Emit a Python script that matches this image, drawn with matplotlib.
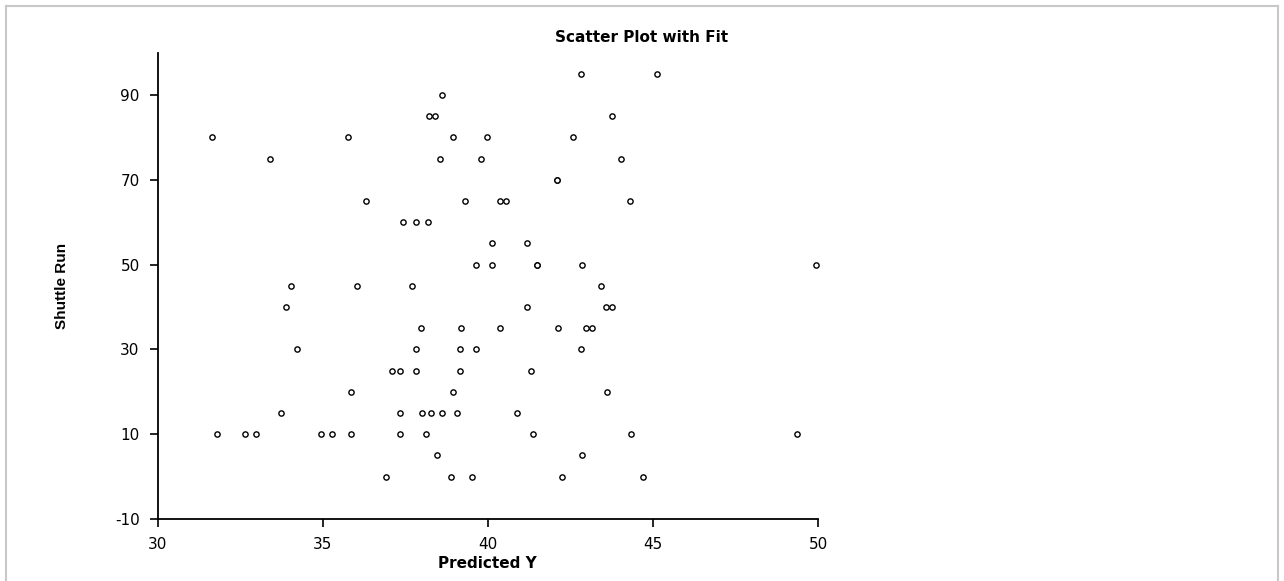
import matplotlib
matplotlib.use("Agg")
import matplotlib.pyplot as plt
from matplotlib.lines import Line2D

# predicted Y (x) and shuttle run (y)
predicted_y = [42.81, 45.12,
               38.62,
               38.23, 38.40, 43.77,
               31.64, 35.77, 38.94, 39.96, 42.58,
               33.40, 38.56, 39.80, 44.04,
               42.08, 42.08,
               36.31, 39.32, 40.38, 40.55, 44.31,
               37.42, 37.81, 38.19,
               40.12, 41.19,
               39.64, 40.12, 41.48, 41.48, 42.86, 49.95,
               34.05, 36.04, 37.70, 43.44,
               33.89, 41.19, 43.59, 43.77,
               37.97, 39.20, 40.38, 42.11, 42.97, 43.14,
               34.21, 37.81, 39.15, 39.64, 42.81,
               37.10, 37.34, 37.81, 39.15, 41.31,
               35.87, 38.94, 43.62,
               33.73, 37.33, 38.02, 38.29, 38.62, 39.06, 40.87,
               31.79, 32.65, 32.98, 34.96, 35.28, 35.87, 37.33, 38.13, 41.36, 44.35, 49.36,
               38.46, 42.86,
               36.90, 38.89, 39.53, 42.26, 44.69]
shuttle_run = [95, 95,
               90,
               85, 85, 85,
               80, 80, 80, 80, 80,
               75, 75, 75, 75,
               70, 70,
               65, 65, 65, 65, 65,
               60, 60, 60,
               55, 55,
               50, 50, 50, 50, 50, 50,
               45, 45, 45, 45,
               40, 40, 40, 40,
               35, 35, 35, 35, 35, 35,
               30, 30, 30, 30, 30,
               25, 25, 25, 25, 25,
               20, 20, 20,
               15, 15, 15, 15, 15, 15, 15,
               10, 10, 10, 10, 10, 10, 10, 10, 10, 10, 10,
               5, 5,
               0, 0, 0, 0, 0]

x_ticks = [30, 35, 40, 45, 50]
y_ticks = [-10, 10, 30, 50, 70, 90]

plt.rcParams['font.family'] = ['DejaVu Sans']
plt.rcParams['axes.unicode_minus'] = False

W, H = 1284, 581
fig = plt.figure(figsize=(W / 100, H / 100), dpi=100)
ax = fig.add_axes([157.7 / W, 1 - 519 / H, (818 - 157.7) / W, (519 - 52.7) / H])

ax.plot(predicted_y, shuttle_run, 'o', ms=3.8, mfc='white', mec='black', mew=1.0,
        linestyle='none', clip_on=False)

ax.set_xlim(30, 50)
ax.set_ylim(-10, 100)
ax.set_xticks(x_ticks)
ax.set_yticks(y_ticks)
ax.tick_params(direction='out', length=6, width=1.2, labelsize=11, pad=7)
for s in ['top', 'right']:
    ax.spines[s].set_visible(False)
for s in ['left', 'bottom']:
    ax.spines[s].set_linewidth(1.3)

ax.set_xlabel('Predicted Y', fontsize=11, fontweight='bold', labelpad=3)
ax.set_ylabel('Shuttle Run', fontsize=11, fontweight='bold', labelpad=33,
              family='Liberation Sans')
fig.text(0.5, 1 - 37 / H, 'Scatter Plot with Fit', ha='center', va='center',
         fontsize=11, fontweight='bold')

# light grey frame around the picture
frame_kw = dict(color='#c8c8c8', lw=1.5, transform=fig.transFigure)
fig.add_artist(Line2D([6 / W, 1278 / W], [1 - 6 / H, 1 - 6 / H], **frame_kw))
fig.add_artist(Line2D([6 / W, 6 / W], [0, 1 - 6 / H], **frame_kw))
fig.add_artist(Line2D([1278 / W, 1278 / W], [0, 1 - 6 / H], **frame_kw))

fig.savefig('out.png', dpi=100)
